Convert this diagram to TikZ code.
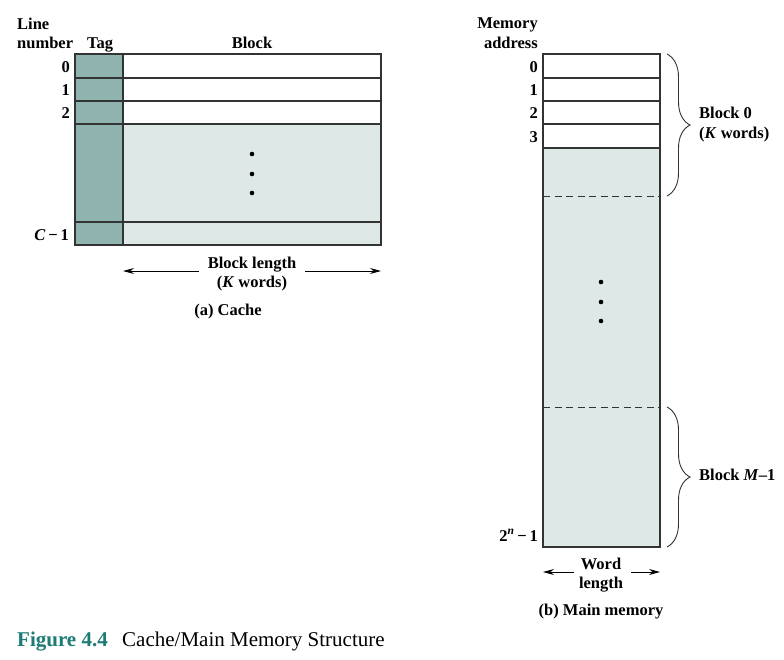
\documentclass[tikz,border=0pt]{standalone}
\usepackage{fontspec}
\setmainfont{Liberation Serif}
\usetikzlibrary{arrows.meta,decorations.pathreplacing}
\definecolor{tagc}{HTML}{8FB3AF}
\definecolor{lightc}{HTML}{DEE8E6}
\definecolor{linec}{HTML}{333333}
\definecolor{capc}{HTML}{1B7C74}
\tikzset{
  box/.style={draw=linec, line width=1.1pt},
  dashline/.style={draw=linec, line width=0.9pt, dash pattern=on 7pt off 4.5pt},
  lbl/.style={font=\fontsize{16.5}{18.5}\selectfont\bfseries, inner sep=0pt, text=black},
  arr/.style={draw=black, line width=0.9pt, -{Stealth[length=11pt,width=6pt]}},
  bracestyle/.style={draw=linec, line width=0.9pt, decorate, decoration={brace, amplitude=23pt}},
  dotc/.style={fill=black},
  captext/.style={font=\fontsize{21}{24}\selectfont, inner sep=0pt},
}
\begin{document}
\begin{tikzpicture}[x=1pt,y=-1pt]
\useasboundingbox[fill=white] (0,0) rectangle (784,659);
% ---------- Cache ----------
\fill[tagc] (75,54) rectangle (123,245);
\fill[white] (123,54) rectangle (381,124);
\fill[lightc] (123,124) rectangle (381,245);
\draw[box] (75,54) rectangle (381,245);
\draw[box] (123,54) -- (123,245);
\foreach \yy in {78,101,124,222} \draw[box] (75,\yy) -- (381,\yy);
\foreach \yy in {154,174,193} \fill[dotc] (252,\yy) circle (2.3pt);
\node[lbl, anchor=base west] (ln1) at (17,29) {Line};
\node[lbl, anchor=base west] (ln2) at (17,48) {number};
\node[lbl, anchor=base] (tag) at (100,48) {Tag};
\node[lbl, anchor=base] (blk) at (252,48) {Block};
\node[lbl, anchor=base east] (c0) at (70,72) {0};
\node[lbl, anchor=base east] (c1) at (70,95) {1};
\node[lbl, anchor=base east] (c2) at (70,118) {2};
\node[lbl, anchor=base east] (cc) at (69,240) {\textit{C}\,\textminus\,1};
\node[lbl, align=center] (bl) at (252,274) {Block length\\(\textit{K} words)};
\coordinate (blL) at (123,271);
\coordinate (blR) at (381,271);
\draw[arr] (bl.west |- blL) ++(-9pt,0) -- (blL);
\draw[arr] (bl.east |- blR) ++(9pt,0) -- (blR);
\node[lbl, anchor=base] (capa) at (228,315) {(a) Cache};
% ---------- Main memory ----------
\fill[white] (543,54) rectangle (660,148);
\fill[lightc] (543,148) rectangle (660,547);
\draw[box] (543,54) rectangle (660,547);
\foreach \yy in {78,101,124,148} \draw[box] (543,\yy) -- (660,\yy);
\draw[dashline] (543,196) -- (660,196);
\draw[dashline] (543,407) -- (660,407);
\foreach \yy in {282,302,321} \fill[dotc] (601,\yy) circle (2.3pt);
\node[lbl, anchor=base east] (ma1) at (538,28) {Memory};
\node[lbl, anchor=base east] (ma2) at (538,48) {address};
\node[lbl, anchor=base east] (m0) at (538,72) {0};
\node[lbl, anchor=base east] (m1) at (538,95) {1};
\node[lbl, anchor=base east] (m2) at (538,118) {2};
\node[lbl, anchor=base east] (m3) at (538,142) {3};
\node[lbl, anchor=base east] (mn) at (538,541) {2\textsuperscript{\textit{n}}\,\textminus\,1};
\draw[bracestyle] (667,54) -- (667,196);
\draw[bracestyle] (667,407) -- (667,547);
\node[lbl, anchor=base west] (b0a) at (699,118) {Block 0};
\node[lbl, anchor=base west] (b0b) at (699,138) {(\textit{K} words)};
\node[lbl, anchor=base west] (bm) at (699,480) {Block \textit{M}\textendash1};
\node[lbl, align=center] (wl) at (601,575) {Word\\length};
\coordinate (wlL) at (543,572);
\coordinate (wlR) at (660,572);
\draw[arr] (wl.west |- wlL) ++(-5pt,0) -- (wlL);
\draw[arr] (wl.east |- wlR) ++(8pt,0) -- (wlR);
\node[lbl, anchor=base] (capb) at (601,615) {(b) Main memory};
% ---------- Caption ----------
\node[captext, anchor=base west, text=capc, font=\fontsize{21}{24}\selectfont\bfseries] (fig) at (17,646) {Figure 4.4};
\node[captext, anchor=base west] (figt) at (122,646) {Cache/Main Memory Structure};
\end{tikzpicture}
\end{document}
